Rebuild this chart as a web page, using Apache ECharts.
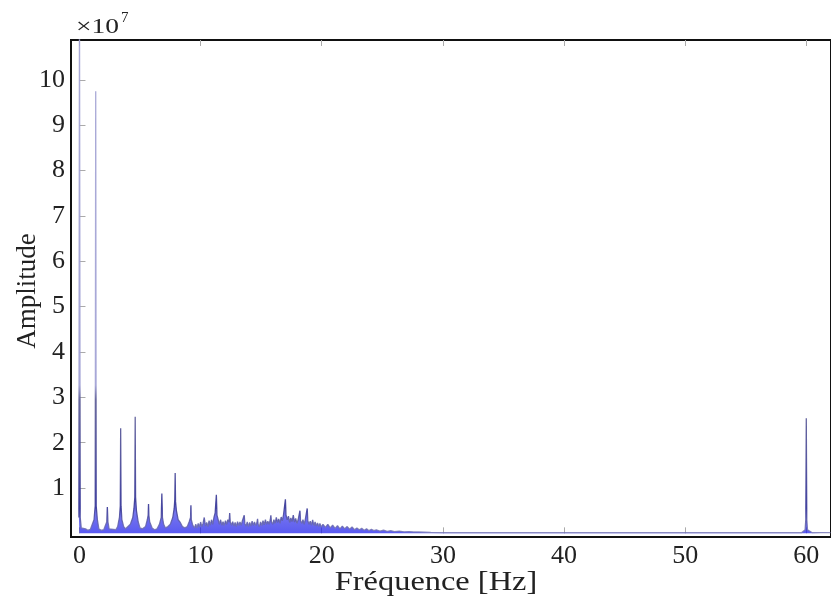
<!DOCTYPE html>
<html>
<head>
<meta charset="utf-8">
<script src="https://cdn.jsdelivr.net/npm/echarts@6/dist/echarts.min.js"></script>
<style>html,body{margin:0;padding:0;background:#fff}#c{width:831px;height:599px}</style>
</head>
<body>
<div id="c"></div>
<script>
// Frequency (Hz) and amplitude (x 1e7)
const freqHz = [
  -0.05, 0.0, 0.06, 0.15, 0.3, 0.5, 0.7, 0.9, 1.05, 1.2, 1.3, 1.34, 1.38, 1.48, 1.6, 1.8, 2.0,
  2.15, 2.25, 2.3, 2.35, 2.45, 2.6, 2.8, 3.0, 3.15, 3.3, 3.37, 3.4, 3.43, 3.5, 3.65, 3.8,
  4.0, 4.2, 4.4, 4.5, 4.57, 4.6, 4.63, 4.7, 4.85, 5.0, 5.2, 5.45, 5.6, 5.67, 5.7, 5.73,
  5.8, 6.0, 6.2, 6.4, 6.6, 6.75, 6.8, 6.85, 6.95, 7.1, 7.3, 7.5, 7.7, 7.82, 7.87, 7.9,
  7.93, 8.0, 8.15, 8.3, 8.5, 8.7, 8.9, 9.05, 9.17, 9.2, 9.23, 9.35, 9.5, 9.6, 9.7, 9.8,
  9.9, 10.0, 10.1, 10.2, 10.3, 10.4, 10.5, 10.6, 10.7, 10.8, 10.9, 11.0, 11.1, 11.2, 11.3, 11.35,
  11.45, 11.55, 11.65, 11.75, 11.85, 11.95, 12.05, 12.15, 12.25, 12.35, 12.4, 12.45, 12.55, 12.65, 12.75, 12.85,
  12.95, 13.05, 13.15, 13.25, 13.35, 13.45, 13.55, 13.6, 13.65, 13.75, 13.85, 13.95, 14.05, 14.15, 14.25, 14.35,
  14.45, 14.55, 14.65, 14.7, 14.75, 14.85, 14.95, 15.05, 15.15, 15.25, 15.35, 15.45, 15.55, 15.65, 15.75, 15.8,
  15.85, 15.95, 16.05, 16.15, 16.25, 16.35, 16.45, 16.55, 16.65, 16.75, 16.85, 16.95, 17.0, 17.05, 17.15, 17.25,
  17.35, 17.45, 17.55, 17.65, 17.75, 17.85, 17.95, 18.05, 18.15, 18.2, 18.25, 18.35, 18.45, 18.55, 18.65, 18.75,
  18.8, 18.85, 18.95, 19.05, 19.15, 19.25, 19.35, 19.45, 19.55, 19.65, 19.75, 19.85, 19.95, 20.1, 20.3, 20.5,
  20.7, 20.9, 21.1, 21.3, 21.5, 21.7, 21.9, 22.1, 22.3, 22.5, 22.7, 22.9, 23.1, 23.3, 23.5, 23.7,
  23.9, 24.1, 24.3, 24.5, 24.8, 25.1, 25.4, 25.7, 26.0, 26.4, 26.8, 27.2, 27.6, 28.0, 29.0, 30.0,
  35.0, 40.0, 45.0, 50.0, 55.0, 59.6, 59.9, 59.96, 60.0, 60.04, 60.1, 60.5, 62.0
];
const amplitude = [
  0.35, 12.0, 0.35, 0.12, 0.08, 0.1, 0.07, 0.09, 0.1, 0.3, 0.6, 9.75, 0.6, 0.3, 0.1, 0.07, 0.08,
  0.12, 0.25, 0.58, 0.25, 0.1, 0.07, 0.09, 0.08, 0.15, 0.35, 0.6, 2.32, 0.6, 0.3, 0.15, 0.1,
  0.15, 0.2, 0.35, 0.55, 0.8, 2.57, 0.8, 0.5, 0.25, 0.12, 0.1, 0.15, 0.3, 0.4, 0.65, 0.4,
  0.25, 0.12, 0.08, 0.1, 0.2, 0.35, 0.88, 0.35, 0.2, 0.12, 0.15, 0.2, 0.35, 0.55, 0.75, 1.33,
  0.7, 0.5, 0.3, 0.25, 0.15, 0.12, 0.15, 0.25, 0.35, 0.62, 0.3, 0.18, 0.12, 0.2, 0.12, 0.22,
  0.14, 0.25, 0.15, 0.22, 0.35, 0.16, 0.24, 0.15, 0.28, 0.18, 0.3, 0.2, 0.35, 0.45, 0.85, 0.4,
  0.3, 0.2, 0.3, 0.18, 0.26, 0.17, 0.28, 0.2, 0.3, 0.25, 0.45, 0.25, 0.18, 0.26, 0.16, 0.24,
  0.15, 0.26, 0.17, 0.25, 0.18, 0.28, 0.25, 0.4, 0.22, 0.16, 0.25, 0.15, 0.24, 0.16, 0.27, 0.18,
  0.25, 0.17, 0.24, 0.32, 0.2, 0.15, 0.25, 0.17, 0.28, 0.19, 0.3, 0.2, 0.27, 0.2, 0.3, 0.4,
  0.25, 0.2, 0.3, 0.22, 0.35, 0.24, 0.32, 0.22, 0.36, 0.28, 0.42, 0.4, 0.75, 0.4, 0.3, 0.38,
  0.24, 0.34, 0.26, 0.4, 0.25, 0.33, 0.22, 0.3, 0.3, 0.5, 0.28, 0.22, 0.3, 0.2, 0.32, 0.3,
  0.55, 0.28, 0.2, 0.27, 0.18, 0.3, 0.17, 0.25, 0.16, 0.23, 0.15, 0.22, 0.14, 0.2, 0.13, 0.2,
  0.12, 0.18, 0.11, 0.17, 0.1, 0.16, 0.1, 0.15, 0.09, 0.14, 0.08, 0.12, 0.08, 0.11, 0.07, 0.1,
  0.06, 0.09, 0.06, 0.08, 0.05, 0.07, 0.045, 0.06, 0.04, 0.05, 0.035, 0.04, 0.03, 0.03, 0.02, 0.015,
  0.015, 0.015, 0.015, 0.015, 0.015, 0.015, 0.08, 0.3, 2.54, 0.3, 0.08, 0.015, 0.015
];
const xTicks = [0, 10, 20, 30, 40, 50, 60];
const yTicks = [1, 2, 3, 4, 5, 6, 7, 8, 9, 10];

const serif = "'Liberation Serif', 'DejaVu Serif', serif";
const chart = echarts.init(document.getElementById('c'), null, {renderer: 'canvas'});
const pairs = freqHz.map((f, i) => [f, amplitude[i]]);

const lineGrad = new echarts.graphic.LinearGradient(0, 40, 0, 533, [
  {offset: 0, color: 'rgba(160,160,210,0.9)'},
  {offset: 0.70, color: 'rgba(160,160,212,0.9)'},
  {offset: 0.73, color: 'rgba(90,90,148,0.9)'},
  {offset: 0.95, color: 'rgba(55,55,150,0.9)'},
  {offset: 1, color: 'rgba(120,120,180,0.8)'}
], true);
const areaGrad = new echarts.graphic.LinearGradient(0, 40, 0, 533, [
  {offset: 0, color: 'rgba(130,130,210,0.25)'},
  {offset: 0.85, color: 'rgba(100,100,215,0.4)'},
  {offset: 0.92, color: 'rgba(45,45,222,0.78)'},
  {offset: 1, color: 'rgba(20,20,235,1)'}
], true);

chart.setOption({
  animation: false,
  backgroundColor: '#fff',
  grid: {left: 71, top: 40, right: -8, bottom: 62, show: true, borderColor: '#111', borderWidth: 2, backgroundColor: 'transparent'},
  xAxis: [{
    type: 'value', min: -0.7, max: 62.04, position: 'bottom',
    axisLine: {show: false}, splitLine: {show: false},
    axisTick: {inside: true, length: 6, lineStyle: {color: '#aaa'}, customValues: xTicks},
    axisLabel: {customValues: xTicks, fontFamily: serif, fontSize: 26, color: '#222', margin: 6}
  }, {
    type: 'value', min: -0.7, max: 62.04, position: 'top',
    axisLine: {show: false}, splitLine: {show: false},
    axisTick: {inside: true, length: 6, lineStyle: {color: '#aaa'}, customValues: xTicks},
    axisLabel: {show: false}
  }],
  yAxis: [{
    type: 'value', min: -0.08, max: 10.88,
    axisLine: {show: false}, splitLine: {show: false},
    axisTick: {show: true, inside: true, length: 6, lineStyle: {color: '#aaa'}, customValues: yTicks},
    axisLabel: {customValues: yTicks, fontFamily: serif, fontSize: 26, color: '#222', margin: 6}
  }],
  series: [{
    type: 'line', data: pairs, symbol: 'none', clip: true,
    lineStyle: {width: 1.3, color: lineGrad},
    areaStyle: {color: areaGrad, origin: 0}
  }],
  graphic: [
    {type: 'text', x: 76, y: 27, style: {text: '×10', font: "22px " + serif, fill: '#222', verticalAlign: 'middle', align: 'left'}, scaleX: 1.25},
    {type: 'text', x: 121, y: 18, style: {text: '7', font: "15px " + serif, fill: '#222', verticalAlign: 'middle', align: 'left'}},
    {type: 'text', x: 28, y: 291, rotation: Math.PI / 2, style: {text: 'Amplitude', font: "27px " + serif, fill: '#222', verticalAlign: 'middle', align: 'center'}},
    {type: 'text', x: 436, y: 583, scaleX: 1.2, style: {text: 'Fréquence [Hz]', font: "27px " + serif, fill: '#222', verticalAlign: 'middle', align: 'center'}}
  ]
});
</script>
</body>
</html>
